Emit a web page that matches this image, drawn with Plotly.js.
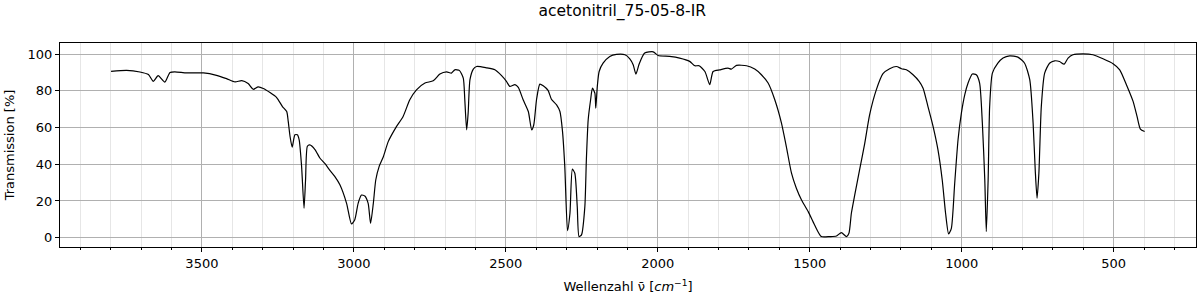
<!DOCTYPE html>
<html>
<head>
<meta charset="utf-8">
<script src="https://cdn.plot.ly/plotly-3.0.1.min.js"></script>
<style>html,body{margin:0;padding:0;background:#fff;}#chart{width:1200px;height:300px;}</style>
</head>
<body>
<div id="chart"></div>
<script>
const wavenumber = [3799,3748,3704,3676,3660,3644,3622,3605,3589,3550,3495,3452,3419,3391,3369,3348,3331,3315,3298,3276,3254,3235,3221,3216,3210,3203,3194,3186,3180,3172,3164,3159,3153,3145,3128,3112,3095,3079,3063,3046,3024,3008,2997,2986,2975,2964,2953,2945,2936,2928,2917,2903,2887,2860,2838,2816,2794,2766,2739,2717,2695,2679,2668,2653,2640,2635,2629,2624,2618,2607,2596,2564,2536,2514,2498,2487,2470,2459,2443,2426,2415,2408,2399,2388,2377,2361,2350,2333,2322,2314,2306,2297,2289,2281,2273,2265,2259,2251,2240,2235,2229,2221,2215,2207,2204,2199,2193,2180,2158,2136,2108,2092,2081,2072,2061,2043,2015,1999,1961,1928,1895,1878,1864,1845,1829,1818,1796,1769,1758,1741,1708,1681,1659,1637,1615,1593,1577,1560,1544,1527,1505,1484,1462,1434,1412,1396,1379,1371,1363,1352,1336,1319,1303,1281,1259,1237,1215,1198,1182,1160,1140,1127,1111,1094,1078,1064,1053,1043,1034,1023,1012,1001,990,979,965,952,941,932,924,919,913,908,899,881,864,842,815,793,776,765,758,752,746,738,727,711,694,678,663,650,634,601,568,535,502,480,458,436,423,412,398];
const transmission = [90.5,91.1,90.2,88.8,85.1,88.2,84.7,90.0,90.3,89.7,89.7,88.4,86.6,84.8,85.5,83.9,80.8,82.1,81.2,79.0,76.3,71.4,68.7,63.3,55.1,49.3,56.0,56.0,53.3,38.7,16.0,31.5,49.8,50.5,48.0,43.4,40.3,36.7,33.4,28.8,18.7,7.5,9.8,18.7,23.2,22.7,18.7,7.8,18.7,31.4,38.7,44.1,52.3,60.5,66.0,75.1,80.5,84.2,85.4,89.1,90.3,89.6,91.4,91.1,86.9,75.1,58.7,67.8,86.0,91.8,93.2,92.5,91.4,88.2,85.1,82.4,83.3,81.8,75.1,68.7,58.7,61.5,75.1,83.6,82.7,80.2,75.4,72.3,68.7,58.7,38.7,3.8,13.3,37.3,35.1,16.9,0.6,1.5,16.9,42.3,64.2,75.1,81.4,78.7,70.5,82.4,90.5,95.0,98.7,99.8,99.6,97.4,94.2,89.1,94.7,100.5,101.2,99.2,98.7,97.8,96.0,93.6,93.6,90.5,83.3,90.5,91.4,92.3,91.8,93.8,93.6,91.8,88.7,84.2,75.1,62.4,49.6,35.1,26.9,20.5,14.2,6.9,0.6,0.6,0.9,2.8,0.6,2.4,13.3,23.2,36.9,51.4,66.9,80.5,89.3,92.0,93.2,92.0,91.4,88.7,85.1,81.4,71.4,60.5,47.8,31.4,13.3,2.0,5.1,29.6,53.3,67.8,77.8,84.2,89.1,88.7,84.2,62.4,31.4,3.3,31.4,71.4,89.6,95.0,97.8,99.0,98.3,95.0,86.0,62.4,36.9,21.5,35.1,71.4,89.6,95.0,96.3,95.9,94.5,97.8,99.6,100.1,99.6,97.4,94.7,91.4,83.3,74.2,66.0,59.1,57.8];
const xTickVals = [3500,3000,2500,2000,1500,1000,500];
const xTickText = ['3500','3000','2500','2000','1500','1000','500'];
const yTickVals = [0,20,40,60,80,100];

const font = {family: 'DejaVu Sans, sans-serif', size: 13, color: '#000'};
const data = [{
  x: wavenumber, y: transmission, type: 'scatter', mode: 'lines',
  line: {color: '#000000', width: 1.2, shape: 'spline', smoothing: 0.6},
  hoverinfo: 'skip', showlegend: false
}];
const layout = {
  width: 1200, height: 300,
  margin: {l: 60, r: 4, t: 43, b: 53},
  paper_bgcolor: '#fff', plot_bgcolor: '#fff',
  font: font,
  title: {text: 'acetonitril_75-05-8-IR', xref: 'paper', x: 0.495, xanchor: 'center', yref: 'container', y: 0.965, yanchor: 'middle', font: {family: 'DejaVu Sans, sans-serif', size: 15.5, color: '#000'}},
  xaxis: {
    range: [3967, 229], tickvals: xTickVals, ticktext: xTickText,
    ticks: 'outside', ticklen: 4, tickcolor: '#000', tickwidth: 1,
    showline: true, linecolor: '#000', linewidth: 1, mirror: true,
    showgrid: true, gridcolor: '#b0b0b0', gridwidth: 1, zeroline: false,
    tickfont: font,
    minor: {dtick: 100, tick0: 0, showgrid: true, gridcolor: '#e6e6e6', gridwidth: 1, ticks: 'outside', ticklen: 2, tickcolor: '#000'},
    title: {text: 'Wellenzahl \u03BD\u0304 [<i>cm</i><sup>\u22121</sup>]', font: font, standoff: 12}
  },
  yaxis: {
    range: [-5.07, 106], tickvals: yTickVals,
    ticks: 'outside', ticklen: 4, tickcolor: '#000', tickwidth: 1,
    showline: true, linecolor: '#000', linewidth: 1, mirror: true,
    showgrid: true, gridcolor: '#b0b0b0', gridwidth: 1, zeroline: false,
    tickfont: font,
    title: {text: 'Transmission [%]', font: font, standoff: 10}
  }
};
Plotly.newPlot('chart', data, layout, {staticPlot: true, displayModeBar: false});
</script>
</body>
</html>
